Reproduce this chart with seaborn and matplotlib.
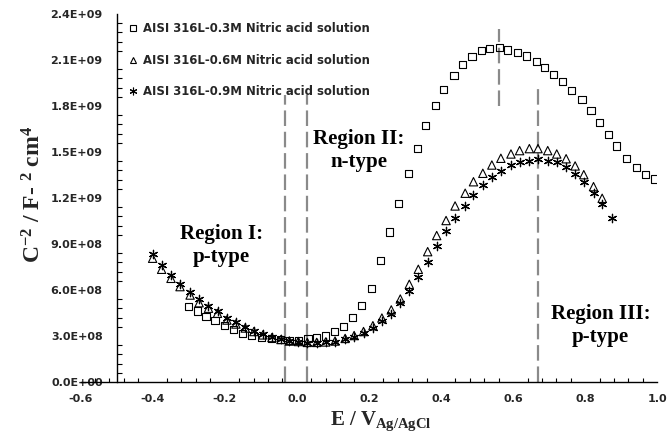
import matplotlib
matplotlib.use("Agg")
import matplotlib.pyplot as plt
import seaborn as sns
import pandas as pd
from matplotlib.ticker import MultipleLocator, FuncFormatter, FixedLocator
from matplotlib.lines import Line2D

# ---------------- data ----------------
labels = ["AISI 316L-0.3M Nitric acid solution",
          "AISI 316L-0.6M Nitric acid solution",
          "AISI 316L-0.9M Nitric acid solution"]

x_03 = [-0.301, -0.276, -0.252, -0.227, -0.201, -0.176, -0.150, -0.125, -0.097, -0.071,
        -0.046, -0.021, 0.004, 0.031, 0.055, 0.080, 0.104, 0.129, 0.155, 0.180,
        0.207, 0.231, 0.257, 0.282, 0.309, 0.334, 0.358, 0.384, 0.408, 0.436,
        0.459, 0.486, 0.513, 0.534, 0.561, 0.585, 0.613, 0.638, 0.664, 0.688,
        0.712, 0.738, 0.763, 0.791, 0.816, 0.840, 0.865, 0.888, 0.915, 0.941,
        0.966, 0.991]
y_03 = [4.91e8, 4.63e8, 4.28e8, 3.98e8, 3.70e8, 3.44e8, 3.18e8, 3.02e8, 2.92e8, 2.82e8,
        2.76e8, 2.72e8, 2.72e8, 2.84e8, 2.92e8, 3.00e8, 3.29e8, 3.61e8, 4.21e8, 4.96e8,
        6.09e8, 7.94e8, 9.78e8, 1.167e9, 1.357e9, 1.524e9, 1.674e9, 1.802e9, 1.906e9, 1.996e9,
        2.072e9, 2.122e9, 2.161e9, 2.174e9, 2.180e9, 2.165e9, 2.148e9, 2.126e9, 2.092e9, 2.050e9,
        2.004e9, 1.961e9, 1.903e9, 1.844e9, 1.769e9, 1.691e9, 1.615e9, 1.539e9, 1.459e9, 1.396e9,
        1.355e9, 1.324e9]

x_09 = [-0.400, -0.375, -0.349, -0.324, -0.296, -0.271, -0.245, -0.220, -0.194, -0.169,
        -0.143, -0.119, -0.094, -0.069, -0.044, -0.021, 0.004, 0.029, 0.055, 0.080,
        0.106, 0.134, 0.159, 0.185, 0.211, 0.236, 0.262, 0.287, 0.312, 0.337,
        0.363, 0.388, 0.414, 0.439, 0.467, 0.490, 0.516, 0.541, 0.566, 0.594,
        0.618, 0.645, 0.669, 0.696, 0.721, 0.747, 0.772, 0.796, 0.823, 0.847,
        0.874]
y_09 = [8.35e8, 7.63e8, 6.98e8, 6.42e8, 5.89e8, 5.41e8, 4.98e8, 4.61e8, 4.15e8, 3.89e8,
        3.61e8, 3.35e8, 3.11e8, 2.92e8, 2.78e8, 2.67e8, 2.63e8, 2.56e8, 2.56e8, 2.59e8,
        2.63e8, 2.78e8, 2.95e8, 3.17e8, 3.54e8, 3.98e8, 4.41e8, 5.13e8, 5.95e8, 6.87e8,
        7.85e8, 8.87e8, 9.82e8, 1.072e9, 1.151e9, 1.220e9, 1.282e9, 1.340e9, 1.379e9, 1.412e9,
        1.434e9, 1.444e9, 1.454e9, 1.444e9, 1.434e9, 1.402e9, 1.357e9, 1.306e9, 1.235e9, 1.161e9,
        1.067e9]

x_06 = x_09[:-1]
y_06 = [8.07e8, 7.35e8, 6.76e8, 6.22e8, 5.67e8, 5.17e8, 4.81e8, 4.48e8, 4.04e8, 3.78e8,
        3.52e8, 3.29e8, 3.07e8, 2.90e8, 2.77e8, 2.67e8, 2.64e8, 2.58e8, 2.58e8, 2.61e8,
        2.67e8, 2.84e8, 3.03e8, 3.29e8, 3.67e8, 4.17e8, 4.70e8, 5.41e8, 6.37e8, 7.35e8,
        8.50e8, 9.55e8, 1.053e9, 1.148e9, 1.231e9, 1.306e9, 1.361e9, 1.415e9, 1.459e9, 1.487e9,
        1.509e9, 1.522e9, 1.522e9, 1.509e9, 1.487e9, 1.456e9, 1.409e9, 1.352e9, 1.274e9, 1.198e9]

x_ticks = [-0.6, -0.4, -0.2, 0.0, 0.2, 0.4, 0.6, 0.8, 1.0]
y_ticks = [0, 3e8, 6e8, 9e8, 1.2e9, 1.5e9, 1.8e9, 2.1e9, 2.4e9]

# vertical dashed guide lines: (x, ymin, ymax)
guides = [(-0.034, 0, 1.87e9), (0.028, 0, 1.87e9), (0.668, 0, 1.93e9), (0.561, 1.80e9, 2.30e9)]

region_texts = [("Region I:\np-type", -0.21, 8.9e8),
                ("Region II:\nn-type", 0.173, 1.51e9),
                ("Region III:\np-type", 0.842, 3.68e8)]

# ---------------- figure ----------------
sns.set_theme(style="white")
plt.rcParams["font.family"] = ["DejaVu Sans"]
plt.rcParams["mathtext.fontset"] = "custom"
plt.rcParams["mathtext.rm"] = "Liberation Serif:bold"
plt.rcParams["mathtext.it"] = "Liberation Serif:bold"
plt.rcParams["mathtext.bf"] = "Liberation Serif:bold"

fig = plt.figure(figsize=(6.67, 4.36), dpi=100)
ax = fig.add_axes([0.1207, 0.1239, 0.8648, 0.8440])

df03 = pd.DataFrame({"x": x_03, "y": y_03})
df06 = pd.DataFrame({"x": x_06, "y": y_06})
df09 = pd.DataFrame({"x": x_09, "y": y_09})

sns.scatterplot(data=df03, x="x", y="y", ax=ax, marker="s", s=26,
                facecolor="none", edgecolor="black", linewidth=0.8, zorder=3)
sns.scatterplot(data=df06, x="x", y="y", ax=ax, marker="^", s=36,
                facecolor="none", edgecolor="black", linewidth=0.8, zorder=3)
sns.scatterplot(data=df09, x="x", y="y", ax=ax, marker=(6, 2, 0), s=36,
                color="black", linewidth=0.9, zorder=4)

for gx, y0, y1 in guides:
    ax.plot([gx, gx], [y0, y1], color="#8a8a8a", lw=1.6,
            ls=(0, (7, 2.6)), zorder=2)

for txt, tx, ty in region_texts:
    ax.text(tx, ty, txt, ha="center", va="center", family="Liberation Serif",
            fontweight="bold", fontsize=15, linespacing=1.15, color="black")

ax.set_xlim(-0.6, 1.0)
ax.set_ylim(0, 2.4e9)
ax.spines["top"].set_visible(False)
ax.spines["right"].set_visible(False)
ax.spines["left"].set_position(("data", -0.5))
for sp in ("left", "bottom"):
    ax.spines[sp].set_color("black")
    ax.spines[sp].set_linewidth(1.0)

ax.xaxis.set_major_locator(FixedLocator(x_ticks))
ax.xaxis.set_minor_locator(MultipleLocator(0.04))
ax.yaxis.set_major_locator(FixedLocator(y_ticks))
ax.yaxis.set_minor_locator(MultipleLocator(6e7))
ax.xaxis.set_major_formatter(FuncFormatter(lambda v, p: f"{v:.1f}"))
ax.yaxis.set_major_formatter(FuncFormatter(lambda v, p: f"{v:.1E}"))

ax.tick_params(axis="x", which="major", direction="inout", length=6, width=1,
               color="black", pad=6, labelsize=8)
ax.tick_params(axis="x", which="minor", direction="in", length=3, width=0.8,
               color="black", bottom=True)
ax.tick_params(axis="y", which="major", direction="out", length=4, width=1,
               color="black", pad=6, labelsize=8)
ax.tick_params(axis="y", which="minor", direction="in", length=3.5, width=0.8,
               color="black", left=True)
for lab in ax.get_xticklabels() + ax.get_yticklabels():
    lab.set_fontweight("bold")
ax.xaxis.get_major_ticks()[0].tick1line.set_visible(False)
ax.xaxis.get_major_ticks()[0].tick2line.set_visible(False)

ax.set_xlabel(r"E / V$_{\mathrm{Ag/AgCl}}$", family="Liberation Serif",
              fontweight="bold", fontsize=15)
ax.xaxis.set_label_coords(0.52, -0.076)
ax.set_ylabel(r"C$^{-2}$ / F- $^{2}$ cm$^{4}$", family="Liberation Serif",
              fontweight="bold", fontsize=17)
ax.yaxis.set_label_coords(-0.06, 0.51)

handles = [Line2D([], [], ls="none", marker="s", markersize=4.5, markerfacecolor="none",
                  markeredgecolor="black", markeredgewidth=0.8),
           Line2D([], [], ls="none", marker="^", markersize=5, markerfacecolor="none",
                  markeredgecolor="black", markeredgewidth=0.8),
           Line2D([], [], ls="none", marker=(6, 2, 0), markersize=5.5, color="black",
                  markeredgewidth=0.8)]
leg = ax.legend(handles, labels, loc="upper left", bbox_to_anchor=(0.083, 0.978),
                frameon=False, handlelength=0.85, handletextpad=0.4,
                labelspacing=1.6, borderpad=0, borderaxespad=0,
                prop={"family": "DejaVu Sans", "weight": "bold", "size": 8.4})

fig.savefig("out.png", dpi=100)
